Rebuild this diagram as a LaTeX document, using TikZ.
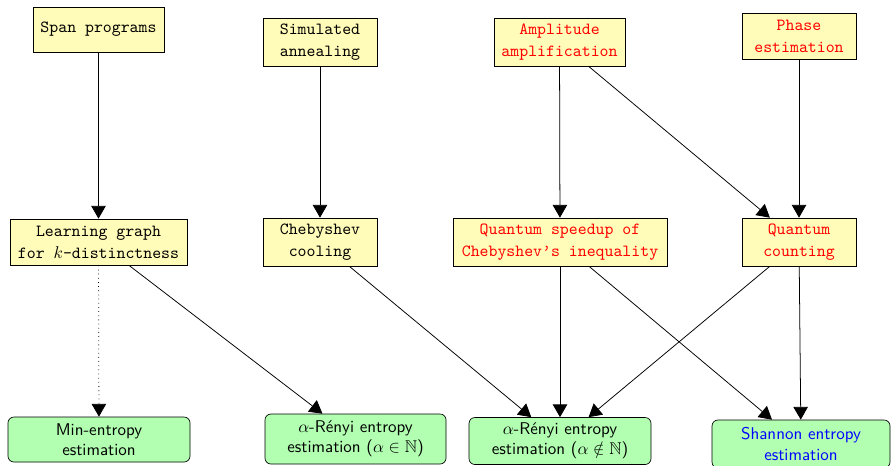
\documentclass[tikz,border=0pt]{standalone}
\usepackage{amssymb}
\usetikzlibrary{arrows.meta}
\begin{document}
\begin{tikzpicture}[x=0.5882pt,y=-0.5882pt,
  tbox/.style={draw, fill=yellow!28, align=center, font=\ttfamily\linespread{1.08}\selectfont, inner sep=0pt},
  gbox/.style={draw, fill=green!30, rounded corners=3.5pt, align=center, font=\sffamily, inner sep=0pt},
  wd/.style={minimum width=#1*0.5882pt},
  ht/.style={minimum height=#1*0.5882pt},
  arr/.style={-{Triangle[length=7.5pt,width=8.5pt]}, line width=0.45pt}]
\useasboundingbox (0,0) rectangle (891,465);
% top row
\node[tbox, wd=131, ht=45] (span) at (98.5,29.5) {Span programs};
\node[tbox, wd=114, ht=48] (sim) at (320,42) {Simulated\\annealing};
\node[tbox, wd=131, ht=48, text=red] (amp) at (559.5,42) {Amplitude\\amplification};
\node[tbox, wd=114, ht=46, text=red] (phase) at (799,36) {Phase\\estimation};
% middle row
\node[tbox, wd=177, ht=46] (learn) at (98.5,242) {Learning graph\\for $k$-distinctness};
\node[tbox, wd=114, ht=48] (cool) at (320,242) {Chebyshev\\cooling};
\node[tbox, wd=214, ht=48, text=red] (speed) at (560,242) {Quantum speedup of\\Chebyshev’s inequality};
\node[tbox, wd=114, ht=48, text=red] (count) at (799,242) {Quantum\\counting};
% bottom row
\node[gbox, wd=182, ht=45] (minent) at (99,439.5) {Min-entropy\\estimation};
\node[gbox, wd=181, ht=50] (reni) at (355.5,439) {$\alpha$-Rényi entropy\\estimation ($\alpha\in\mathbb{N}$)};
\node[gbox, wd=182, ht=47] (renn) at (560,441) {$\alpha$-Rényi entropy\\estimation ($\alpha\notin\mathbb{N}$)};
\node[gbox, wd=178, ht=48, text=blue] (shan) at (801,444) {Shannon entropy\\estimation};
% connectors
\draw[arr] (span) -- (learn);
\draw[arr] (sim) -- (cool);
\draw[arr] (amp) -- (speed);
\draw[arr] (amp) -- (count);
\draw[arr] (phase) -- (count);
\draw[arr, dotted] (learn) -- (minent);
\draw[arr] (learn) -- (reni);
\draw[arr] (cool) -- (renn);
\draw[arr] (speed) -- (renn);
\draw[arr] (speed) -- (shan);
\draw[arr] (count) -- (renn);
\draw[arr] (count) -- (shan);
\end{tikzpicture}
\end{document}
